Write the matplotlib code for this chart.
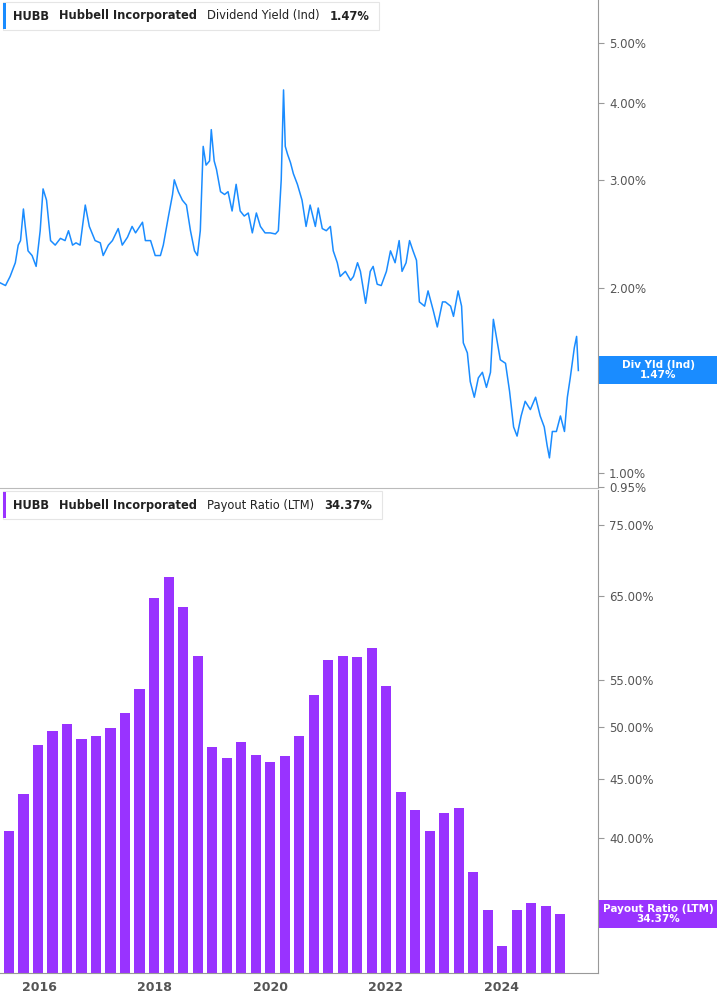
import matplotlib
matplotlib.use("Agg")
import matplotlib.pyplot as plt
from matplotlib.ticker import FixedLocator, NullLocator, NullFormatter
import numpy as np

# ---- data ----
yield_dates = [2015.33,2015.42,2015.50,2015.59,2015.64,2015.68,2015.73,2015.76,2015.81,2015.88,2015.95,2016.02,2016.07,2016.13,2016.20,2016.28,2016.37,2016.45,2016.51,2016.58,2016.64,2016.71,2016.80,2016.87,2016.97,2017.06,2017.11,2017.20,2017.27,2017.37,2017.44,2017.53,2017.61,2017.67,2017.79,2017.84,2017.93,2018.01,2018.10,2018.15,2018.24,2018.31,2018.34,2018.41,2018.48,2018.55,2018.62,2018.69,2018.74,2018.79,2018.84,2018.89,2018.95,2018.98,2019.03,2019.07,2019.14,2019.21,2019.27,2019.34,2019.41,2019.48,2019.55,2019.62,2019.69,2019.76,2019.83,2019.91,2020.00,2020.09,2020.14,2020.19,2020.23,2020.26,2020.30,2020.35,2020.40,2020.47,2020.55,2020.62,2020.69,2020.78,2020.83,2020.90,2020.97,2021.04,2021.09,2021.16,2021.21,2021.30,2021.39,2021.44,2021.51,2021.56,2021.65,2021.73,2021.78,2021.85,2021.92,2022.01,2022.08,2022.16,2022.23,2022.28,2022.35,2022.41,2022.47,2022.53,2022.58,2022.67,2022.73,2022.82,2022.89,2022.98,2023.03,2023.12,2023.17,2023.25,2023.31,2023.34,2023.41,2023.46,2023.53,2023.60,2023.67,2023.74,2023.81,2023.86,2023.93,2023.98,2024.07,2024.14,2024.21,2024.27,2024.34,2024.41,2024.50,2024.59,2024.67,2024.74,2024.79,2024.83,2024.88,2024.95,2025.02,2025.09,2025.14,2025.19,2025.26,2025.30,2025.33]
yield_values = [2.04,2.02,2.09,2.20,2.35,2.39,2.69,2.53,2.30,2.26,2.17,2.48,2.90,2.78,2.39,2.35,2.41,2.39,2.48,2.35,2.37,2.35,2.73,2.52,2.39,2.37,2.26,2.35,2.39,2.50,2.35,2.42,2.52,2.46,2.56,2.39,2.39,2.26,2.26,2.35,2.62,2.84,3.00,2.87,2.78,2.73,2.48,2.30,2.26,2.48,3.40,3.17,3.22,3.62,3.22,3.12,2.87,2.84,2.87,2.67,2.95,2.67,2.62,2.65,2.46,2.65,2.52,2.46,2.46,2.45,2.48,3.00,4.20,3.40,3.30,3.20,3.07,2.95,2.78,2.52,2.73,2.52,2.70,2.50,2.48,2.52,2.30,2.20,2.09,2.13,2.06,2.09,2.20,2.13,1.89,2.13,2.17,2.03,2.02,2.13,2.30,2.20,2.39,2.13,2.20,2.39,2.30,2.22,1.90,1.87,1.98,1.84,1.73,1.90,1.90,1.87,1.80,1.98,1.87,1.63,1.57,1.41,1.33,1.43,1.46,1.38,1.46,1.78,1.63,1.53,1.51,1.36,1.19,1.15,1.24,1.31,1.27,1.33,1.24,1.19,1.11,1.06,1.17,1.17,1.24,1.17,1.33,1.43,1.60,1.67,1.47]

payout_dates = [2015.48 + 0.251 * i for i in range(39)]
payout_values = [40.6,43.7,48.2,49.6,50.3,48.8,49.1,49.9,51.4,54.0,64.8,67.6,63.6,57.7,48.0,47.0,48.5,47.3,46.6,47.2,49.1,53.3,57.2,57.7,57.6,58.6,54.3,43.9,42.3,40.6,42.1,42.5,37.4,34.6,32.2,34.6,35.1,34.9,34.37]

yield_ticks = [1.0, 2.0, 3.0, 4.0, 5.0]
payout_ticks = [40, 45, 50, 55, 65, 75]
year_ticks = [2016, 2018, 2020, 2022, 2024]

BLUE = "#1a8cff"
PURPLE = "#9933ff"
TXT = "#555555"

W, H = 717, 1005
fig = plt.figure(figsize=(W/100, H/100), dpi=100)
xl = (2015.325, 2025.67)

def axrect(x0, y0, x1, y1):
    return [x0/W, 1 - y1/H, (x1-x0)/W, (y1-y0)/H]

ax1 = fig.add_axes(axrect(0, 0, 598, 488))
ax2 = fig.add_axes(axrect(0, 490, 598, 973))

for ax in (ax1, ax2):
    ax.set_xlim(*xl)
    ax.set_yscale("log")
    ax.yaxis.tick_right()
    for s in ("top", "left"):
        ax.spines[s].set_visible(False)
    ax.spines["right"].set_color("#999999")
    ax.spines["bottom"].set_color("#999999")
    ax.tick_params(axis="y", which="both", right=True, length=4, color="#999999",
                   labelsize=8.5, labelcolor=TXT, pad=4)
    ax.yaxis.set_minor_locator(NullLocator())
    ax.yaxis.set_minor_formatter(NullFormatter())

ax1.plot(yield_dates, yield_values, color=BLUE, lw=1.1)
ax1.set_ylim(0.947, 5.88)
ax1.yaxis.set_major_locator(FixedLocator(yield_ticks + [0.95]))
ax1.set_yticklabels([f"{v:.2f}%" for v in yield_ticks + [0.95]])
ax1.set_xticks([])
ax1.spines["bottom"].set_color("#bbbbbb")

ax2.bar(payout_dates, payout_values, width=0.175, color=PURPLE, bottom=0)
ax2.set_ylim(30.5, 80.5)
ax2.yaxis.set_major_locator(FixedLocator(payout_ticks))
ax2.set_yticklabels([f"{v:.2f}%" for v in payout_ticks])
ax2.set_xticks(year_ticks)
ax2.set_xticklabels([str(y) for y in year_ticks], fontsize=9, color=TXT, fontweight="bold")
ax2.tick_params(axis="x", length=0, pad=6)

renderer = fig.canvas.get_renderer()

def legend_box(ycent, color, parts):
    x = 13
    for t, wt in parts:
        txt = fig.text(x/W, 1-ycent/H, t, fontsize=8.3, fontweight=wt, color="#222222",
                       va="center", ha="left", zorder=7)
        bb = txt.get_window_extent(renderer)
        x += bb.width + 10
    fig.patches.append(plt.Rectangle((3/W, 1-(ycent+14)/H), (x-3)/W, 28/H, transform=fig.transFigure,
                       facecolor="white", edgecolor="#e5e5e5", lw=0.8, zorder=5))
    fig.patches.append(plt.Rectangle((3/W, 1-(ycent+13)/H), 3/W, 26/H, transform=fig.transFigure,
                       facecolor=color, edgecolor="none", zorder=6))

legend_box(16, BLUE, [("HUBB", "bold"), ("Hubbell Incorporated", "bold"),
                      ("Dividend Yield (Ind)", "normal"), ("1.47%", "bold")])
legend_box(505, PURPLE, [("HUBB", "bold"), ("Hubbell Incorporated", "bold"),
                         ("Payout Ratio (LTM)", "normal"), ("34.37%", "bold")])

def value_box(ytop, color, lines):
    fig.patches.append(plt.Rectangle((599/W, 1-(ytop+28)/H), 118/W, 28/H, transform=fig.transFigure,
                       facecolor=color, edgecolor="none", zorder=5))
    fig.text(658/W, 1-(ytop+14)/H, lines, fontsize=7.5, fontweight="bold", color="white",
             ha="center", va="center", linespacing=1.05, zorder=6)

value_box(356, BLUE, "Div Yld (Ind)\n1.47%")
value_box(900, PURPLE, "Payout Ratio (LTM)\n34.37%")

fig.savefig("out.png", dpi=100, facecolor="white")
